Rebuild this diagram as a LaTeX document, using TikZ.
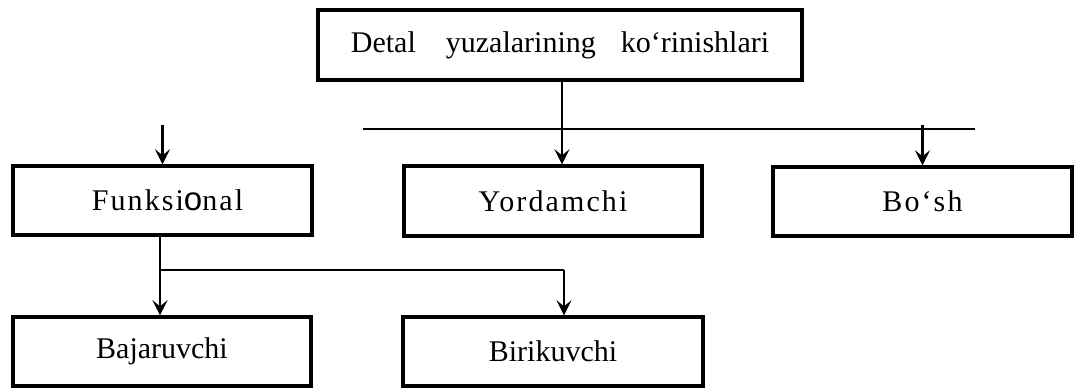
\documentclass[tikz,border=0pt]{standalone}
\usepackage{fontspec}
\setmainfont{Liberation Serif}
\newfontfamily\osans{Liberation Sans}
\newfontfamily\spaced[LetterSpace=7]{Liberation Serif}
\usetikzlibrary{arrows.meta}
\begin{document}
\begin{tikzpicture}[x=1pt,y=1pt,
  box/.style={draw, line width=3.4pt, minimum height=69pt, inner sep=0pt,
    font=\fontsize{30}{36}\selectfont},
  conn/.style={line width=2.6pt},
  arr/.style={conn, -{Stealth[length=15pt,width=15pt,inset=6pt]}}]
\useasboundingbox (0,0) rectangle (1075,-389);
\node[box, minimum width=484pt, minimum height=70pt] (top) at (560,-45)
  {Detal\hspace{30pt}yuzalarining\hspace{25pt}ko‘rinishlari};
\node[box, minimum width=299pt] (funk) at (162.5,-200.5)
  {\hspace{10pt}\spaced\fontsize{30}{36}\selectfont Funksi{\osans\fontsize{33}{36}\selectfont o}nal};
\node[box, minimum width=298pt, minimum height=70pt] (yord) at (553,-201)
  {\spaced\fontsize{30}{36}\selectfont Yordamchi};
\node[box, minimum width=299pt] (bosh) at (922.5,-201.5)
  {\spaced\fontsize{30}{36}\selectfont Bo‘sh};
\node[box, minimum width=298pt] (baj) at (162,-351.5) {Bajaruvchi};
\node[box, minimum width=300pt] (bir) at (553,-351.5) {Birikuvchi};
% bus line
\coordinate (hl) at (363,-129);
\coordinate (hr) at (975,-129);
\draw[conn] (hl) -- (hr);
\coordinate (topx) at (562,-80);
\draw[arr] (topx) -- (topx |- yord.north);
\coordinate (fs) at (162.5,-125);
\draw[arr] (fs) -- (funk.north);
\coordinate (bs) at (922.5,-125);
\draw[arr] (bs) -- (bosh.north);
% lower branch
\coordinate (j) at (160,-270);
\coordinate (bx) at (564,-270);
\draw[conn] (j |- funk.south) -- (j) -- (bx);
\draw[arr] (j) -- (j |- baj.north);
\draw[arr] (bx) -- (bx |- bir.north);
\end{tikzpicture}
\end{document}
